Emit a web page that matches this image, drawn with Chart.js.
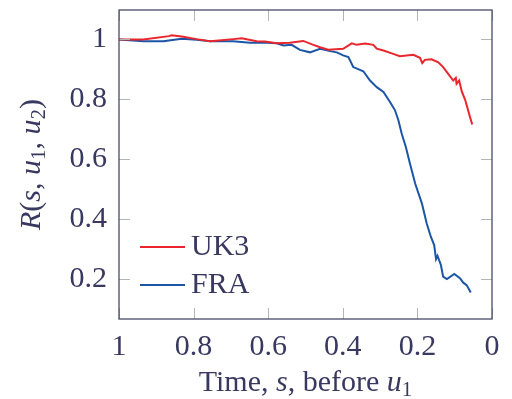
<!DOCTYPE html>
<html>
<head>
<meta charset="utf-8">
<script src="https://cdn.jsdelivr.net/npm/chart.js@4.4.1/dist/chart.umd.min.js"></script>
<style>
    html, body { margin: 0; padding: 0; background: #fff; }
</style>
</head>
<body>
<canvas id="chart" width="512" height="399"></canvas>
<script>
// values
const ukS = [1.0, 0.935, 0.866, 0.859, 0.832, 0.792, 0.756, 0.694, 0.671, 0.631, 0.609, 0.577, 0.542, 0.506, 0.479, 0.461, 0.439, 0.399, 0.376, 0.363, 0.340, 0.318, 0.309, 0.291, 0.265, 0.247, 0.211, 0.193, 0.187, 0.180, 0.162, 0.144, 0.131, 0.104, 0.097, 0.095, 0.088, 0.081, 0.072, 0.059, 0.053];
const ukR = [0.998, 0.998, 1.009, 1.012, 1.008, 0.999, 0.992, 0.999, 1.002, 0.992, 0.991, 0.985, 0.987, 0.993, 0.980, 0.972, 0.964, 0.967, 0.985, 0.980, 0.984, 0.980, 0.967, 0.961, 0.950, 0.942, 0.947, 0.937, 0.919, 0.930, 0.932, 0.922, 0.906, 0.861, 0.870, 0.850, 0.861, 0.825, 0.797, 0.740, 0.715];

const fraS = [1.0, 0.935, 0.881, 0.832, 0.792, 0.756, 0.694, 0.649, 0.604, 0.577, 0.559, 0.537, 0.515, 0.488, 0.461, 0.434, 0.416, 0.399, 0.385, 0.372, 0.345, 0.327, 0.309, 0.291, 0.273, 0.260, 0.251, 0.242, 0.231, 0.220, 0.206, 0.188, 0.175, 0.164, 0.155, 0.150, 0.146, 0.137, 0.131, 0.121, 0.101, 0.086, 0.077, 0.068, 0.057];
const fraR = [0.998, 0.992, 0.992, 1.0, 0.997, 0.992, 0.992, 0.987, 0.987, 0.985, 0.978, 0.980, 0.963, 0.955, 0.967, 0.959, 0.955, 0.945, 0.939, 0.906, 0.892, 0.861, 0.839, 0.823, 0.789, 0.762, 0.729, 0.684, 0.640, 0.585, 0.518, 0.452, 0.385, 0.341, 0.313, 0.266, 0.277, 0.247, 0.208, 0.200, 0.217, 0.203, 0.188, 0.180, 0.155];

const seriesNames = ["UK3", "FRA"];
const xTicks = [1, 0.8, 0.6, 0.4, 0.2, 0];
const yTicks = [0.2, 0.4, 0.6, 0.8, 1];

const textColor = "#383860";
const frameColor = "#4a4a6a";
const tickColor = "#b4b4b4";
const serif = "'Liberation Serif'";

function toPoints(xs, ys) {
    return xs.map((x, i) => ({ x: x, y: ys[i] }));
}

// draws a list of text pieces one after another
function drawPieces(ctx, pieces, x, y) {
    pieces.forEach(p => {
        ctx.font = p.font;
        ctx.fillText(p.t, x, y + (p.dy || 0));
        x += ctx.measureText(p.t).width;
    });
}
function piecesWidth(ctx, pieces) {
    let w = 0;
    pieces.forEach(p => { ctx.font = p.font; w += ctx.measureText(p.t).width; });
    return w;
}

const frameAndLabels = {
    id: "frameAndLabels",
    afterDraw(chart) {
        const ctx = chart.ctx;
        const a = chart.chartArea;
        const xs = chart.scales.x, ys = chart.scales.y;
        ctx.save();

        // inward ticks on all four sides
        ctx.strokeStyle = tickColor;
        ctx.lineWidth = 1;
        ctx.beginPath();
        xTicks.forEach(v => {
            const px = Math.round(xs.getPixelForValue(v)) + 0.5;
            ctx.moveTo(px, a.bottom); ctx.lineTo(px, a.bottom - 11);
            ctx.moveTo(px, a.top); ctx.lineTo(px, a.top + 11);
        });
        yTicks.forEach(v => {
            const py = Math.round(ys.getPixelForValue(v)) + 0.5;
            ctx.moveTo(a.left, py); ctx.lineTo(a.left + 11, py);
            ctx.moveTo(a.right, py); ctx.lineTo(a.right - 11, py);
        });
        ctx.stroke();

        // frame
        ctx.strokeStyle = frameColor;
        ctx.lineWidth = 1.3;
        ctx.strokeRect(a.left, a.top, a.right - a.left, a.bottom - a.top);

        // legend
        const colors = chart.data.datasets.map(d => d.borderColor);
        ctx.textBaseline = "middle";
        ctx.fillStyle = textColor;
        ctx.font = "30px " + serif;
        [247, 285].forEach((ly, i) => {
            ctx.strokeStyle = colors[i];
            ctx.lineWidth = 2;
            ctx.beginPath();
            ctx.moveTo(140, ly); ctx.lineTo(185, ly);
            ctx.stroke();
            ctx.fillText(seriesNames[i], 191, ly);
        });

        // x axis title
        ctx.textBaseline = "alphabetic";
        const rm = "30px " + serif, it = "italic 30px " + serif, sub = "21px " + serif;
        const xt = [
            { t: "Time, ", font: rm }, { t: "s", font: it }, { t: ", before ", font: rm },
            { t: "u", font: it }, { t: "1", font: sub, dy: 5 }
        ];
        const xw = piecesWidth(ctx, xt);
        drawPieces(ctx, xt, (a.left + a.right) / 2 - xw / 2, 391);

        // y axis title, rotated
        const yt = [
            { t: "R", font: it }, { t: "(", font: rm }, { t: "s", font: it }, { t: ", ", font: rm },
            { t: "u", font: it }, { t: "1", font: sub, dy: 5 }, { t: ", ", font: rm },
            { t: "u", font: it }, { t: "2", font: sub, dy: 5 }, { t: ")", font: rm }
        ];
        const yw = piecesWidth(ctx, yt);
        ctx.translate(40, (a.top + a.bottom) / 2);
        ctx.rotate(-Math.PI / 2);
        drawPieces(ctx, yt, -yw / 2, 0);
        ctx.restore();
    }
};

const ctx = document.getElementById("chart").getContext("2d");
new Chart(ctx, {
    type: "line",
    data: {
        datasets: [{
            label: seriesNames[0],
            data: toPoints(ukS, ukR),
            borderColor: "#e8262c",
            borderWidth: 2,
            pointRadius: 0,
            tension: 0
        }, {
            label: seriesNames[1],
            data: toPoints(fraS, fraR),
            borderColor: "#1c55a6",
            borderWidth: 2,
            pointRadius: 0,
            tension: 0
        }]
    },
    options: {
        responsive: false,
        animation: false,
        layout: { padding: { left: 0, top: 10, right: 20, bottom: 0 } },
        plugins: {
            legend: { display: false },
            tooltip: { enabled: false }
        },
        scales: {
            x: {
                type: "linear",
                reverse: true,
                min: 0,
                max: 1,
                border: { display: false },
                grid: { display: false, drawTicks: false },
                afterBuildTicks: axis => { axis.ticks = xTicks.map(v => ({ value: v })); },
                afterFit: axis => {
                    axis.height = 80;
                    axis.paddingLeft = 0;
                    axis.paddingRight = 0;
                },
                ticks: {
                    color: textColor,
                    font: { family: serif, size: 30 },
                    padding: 10,
                    maxRotation: 0,
                    callback: v => String(v)
                }
            },
            y: {
                min: 0.067,
                max: 1.096,
                border: { display: false },
                grid: { display: false, drawTicks: false },
                afterBuildTicks: axis => { axis.ticks = yTicks.map(v => ({ value: v })); },
                afterFit: axis => {
                    axis.width = 119;
                    axis.paddingTop = 0;
                    axis.paddingBottom = 0;
                },
                ticks: {
                    color: textColor,
                    font: { family: serif, size: 30 },
                    padding: 12,
                    callback: v => String(v)
                }
            }
        }
    },
    plugins: [frameAndLabels]
});
</script>
</body>
</html>
